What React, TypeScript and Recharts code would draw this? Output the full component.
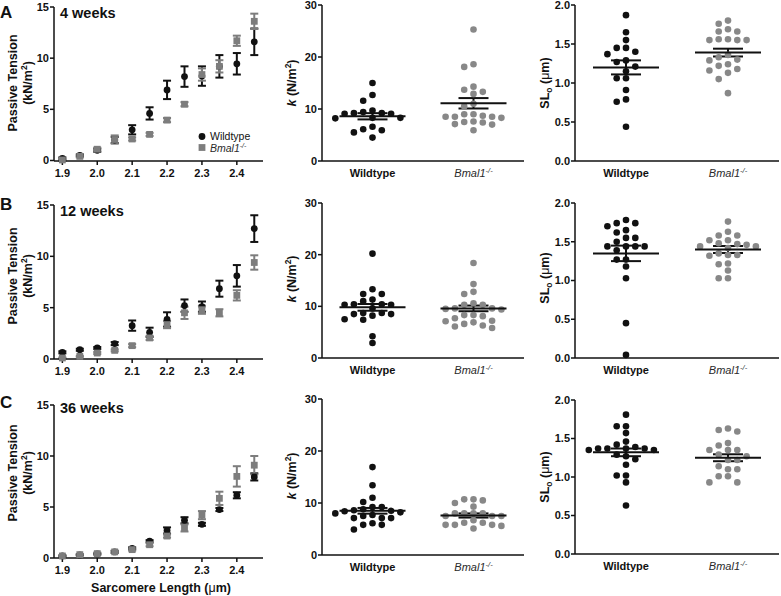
import { ScatterChart, Scatter, XAxis, YAxis, ErrorBar } from "recharts";

const FONT = "'Liberation Sans', Arial, Helvetica, sans-serif";
const BLACK = "#111111";
const GREY_SQ = "#7d7d7d";
const GREY_DOT = "#888888";

// passive tension vs sarcomere length (mean, sem)
const sarcomereLength = [1.9, 1.95, 2.0, 2.05, 2.1, 2.15, 2.2, 2.25, 2.3, 2.35, 2.4, 2.45];
const lengthTicks = [1.9, 2.0, 2.1, 2.2, 2.3, 2.4];

const wt4 = [0.2, 0.5, 1.0, 2.0, 3.0, 4.6, 6.9, 8.2, 8.25, 9.2, 9.45, 11.6];
const wt4Sem = [0.1, 0.1, 0.15, 0.3, 0.45, 0.6, 0.9, 1.0, 0.95, 1.1, 1.05, 1.3];
const ko4 = [0.05, 0.4, 1.1, 2.05, 2.1, 2.55, 3.95, 5.5, 8.4, 9.2, 11.7, 13.6];
const ko4Sem = [0.1, 0.1, 0.15, 0.4, 0.15, 0.15, 0.2, 0.2, 0.6, 0.6, 0.5, 0.75];

const wt12 = [0.65, 0.9, 1.07, 1.5, 3.25, 2.6, 3.85, 5.2, 5.1, 6.85, 8.1, 12.7];
const wt12Sem = [0.1, 0.1, 0.1, 0.15, 0.5, 0.45, 0.7, 0.6, 0.5, 0.78, 1.05, 1.3];
const ko12 = [0.1, 0.26, 0.58, 0.84, 1.3, 2.05, 3.35, 4.5, 4.8, 4.5, 6.2, 9.4];
const ko12Sem = [0.05, 0.05, 0.1, 0.1, 0.15, 0.2, 0.35, 0.6, 0.4, 0.35, 0.5, 0.7];

const wt36 = [0.2, 0.3, 0.4, 0.6, 0.95, 1.65, 2.7, 3.7, 3.3, 4.75, 6.15, 7.95];
const wt36Sem = [0.05, 0.05, 0.05, 0.1, 0.1, 0.1, 0.3, 0.3, 0.15, 0.15, 0.3, 0.35];
const ko36 = [0.2, 0.33, 0.43, 0.6, 0.82, 1.3, 2.15, 2.95, 4.2, 5.85, 8.0, 9.1];
const ko36Sem = [0.05, 0.05, 0.1, 0.1, 0.1, 0.15, 0.15, 0.35, 0.4, 0.65, 1.0, 0.9];

// stiffness k (N/m2), individual fibres
const kWt4 = [15.0, 12.7, 11.6, 9.7, 9.2, 9.1, 9.2, 9.1, 9.4, 8.3, 8.2, 8.3, 6.6, 5.9, 6.1, 5.5, 4.5];
const kKo4 = [25.3, 18.6, 18.1, 14.3, 13.7, 13.3, 12.9, 11.0, 10.5, 9.0, 9.0, 8.7, 8.5, 8.3, 8.5, 8.5, 7.6, 7.5, 7.4, 7.1, 7.0, 5.9];
const kWt12 = [20.2, 13.3, 12.4, 12.4, 11.3, 11.0, 10.4, 10.3, 10.4, 10.3, 9.6, 8.7, 8.5, 8.5, 8.7, 8.2, 7.5, 7.4, 4.2, 2.9];
const kKo12 = [18.4, 14.3, 12.8, 12.4, 10.3, 10.3, 10.6, 9.6, 9.6, 9.5, 9.4, 8.3, 8.1, 8.3, 7.2, 7.1, 7.7, 6.9, 6.3, 5.8, 6.1, 6.6];
const kWt36 = [16.9, 13.4, 11.0, 10.2, 9.2, 9.2, 8.8, 8.6, 8.5, 8.4, 8.2, 8.0, 7.7, 7.5, 7.1, 7.1, 7.1, 6.1, 5.8, 5.8, 4.9];
const kKo36 = [10.7, 10.5, 10.7, 10.0, 9.3, 8.0, 7.5, 8.0, 7.5, 8.0, 7.5, 8.0, 6.7, 6.2, 5.8, 5.8, 5.1, 5.6, 5.8, 6.2];

const kMean = { wt4: 8.6, ko4: 11.1, wt12: 9.8, ko12: 9.6, wt36: 8.5, ko36: 7.6 };
const kSem = { wt4: 0.6, ko4: 1.0, wt12: 0.65, ko12: 0.55, wt36: 0.55, ko36: 0.4 };

// slack sarcomere length SLo (um)
const slWt4 = [1.87, 1.65, 1.55, 1.45, 1.45, 1.4, 1.37, 1.29, 1.27, 1.21, 1.15, 1.06, 1.06, 0.91, 0.79, 0.76, 0.44];
const slKo4 = [1.8, 1.76, 1.69, 1.66, 1.66, 1.56, 1.55, 1.55, 1.55, 1.56, 1.36, 1.33, 1.3, 1.29, 1.24, 1.22, 1.18, 1.16, 1.13, 1.05, 0.87];
const slWt12 = [1.78, 1.74, 1.7, 1.74, 1.65, 1.62, 1.55, 1.55, 1.5, 1.44, 1.44, 1.44, 1.44, 1.39, 1.27, 1.27, 1.18, 1.03, 0.45, 0.04];
const slKo12 = [1.76, 1.63, 1.58, 1.58, 1.52, 1.52, 1.48, 1.47, 1.46, 1.44, 1.42, 1.44, 1.33, 1.32, 1.35, 1.33, 1.22, 1.21, 1.13, 1.03, 1.03];
const slWt36 = [1.81, 1.66, 1.66, 1.57, 1.46, 1.42, 1.37, 1.35, 1.39, 1.37, 1.37, 1.35, 1.37, 1.27, 1.29, 1.23, 1.16, 1.02, 1.02, 0.93, 0.63];
const slKo36 = [1.63, 1.59, 1.61, 1.41, 1.44, 1.35, 1.35, 1.35, 1.29, 1.27, 1.14, 1.22, 1.22, 1.1, 1.1, 1.01, 1.01, 0.93, 0.93];

const slMean = { wt4: 1.2, ko4: 1.39, wt12: 1.35, ko12: 1.4, wt36: 1.32, ko36: 1.25 };
const slSem = { wt4: 0.09, ko4: 0.05, wt12: 0.1, ko12: 0.045, wt36: 0.05, ko36: 0.045 };

const groups = ["Wildtype", "Bmal1"];
const weeks = ["4 weeks", "12 weeks", "36 weeks"];

// beeswarm placement like a column scatter: columns of fixed pixel spacing
function swarm(values: number[], center: number, pxPerX: number, pxPerY: number) {
  const step = 9.3 / pxPerX;
  const gap = 6.6;
  const placed: { col: number; py: number }[] = [];
  const order = values.map((v, i) => ({ v, i })).sort((a, b) => b.v - a.v);
  const out: { x: number; y: number }[] = new Array(values.length);
  for (const { v, i } of order) {
    const py = v * pxPerY;
    let col = 0;
    for (let k = 0; k < 60; k++) {
      const c = k === 0 ? 0 : k % 2 ? -Math.ceil(k / 2) : k / 2;
      if (!placed.some((p) => p.col === c && Math.abs(p.py - py) < gap)) {
        col = c;
        break;
      }
    }
    placed.push({ col, py });
    out[i] = { x: center + col * step, y: v };
  }
  return out;
}

const axisTick = { fill: BLACK, fontSize: 11, fontWeight: 700, fontFamily: FONT };

const circleShape = (color: string, r: number) => (p: any) =>
  <circle cx={p.cx} cy={p.cy} r={r} fill={color} />;
const squareShape = (color: string, s: number) => (p: any) =>
  <rect x={p.cx - s / 2} y={p.cy - s / 2} width={s} height={s} fill={color} />;
const meanShape = (p: any) =>
  <line x1={p.cx - 33} x2={p.cx + 33} y1={p.cy} y2={p.cy} stroke={BLACK} strokeWidth={2} />;

function TensionPanel(props: {
  top: number; bottom: number;
  wt: number[]; wtSem: number[]; ko: number[]; koSem: number[];
}) {
  const left = 54, right = 263;
  const yw = 40, mt = 10, xh = 26, mr = 4;
  const wtData = sarcomereLength.map((x, i) => ({ x, y: props.wt[i], e: props.wtSem[i] }));
  const koData = sarcomereLength.map((x, i) => ({ x, y: props.ko[i], e: props.koSem[i] }));
  return (
    <div style={{ position: "absolute", left: left - yw, top: props.top - mt }}>
      <ScatterChart
        width={right - left + yw + mr}
        height={props.bottom - props.top + mt + xh}
        margin={{ top: mt, right: mr, bottom: 0, left: 0 }}
      >
        <XAxis
          type="number" dataKey="x" domain={[1.876, 2.475]} ticks={lengthTicks} interval={0}
          allowDataOverflow height={xh} tickFormatter={(v: number) => v.toFixed(1)}
          stroke={BLACK} strokeWidth={1.5} tick={axisTick} tickSize={4} tickMargin={4}
        />
        <YAxis
          type="number" dataKey="y" domain={[0, 15]} ticks={[0, 5, 10, 15]} interval={0}
          width={yw} stroke={BLACK} strokeWidth={1.5} tick={axisTick} tickSize={4} tickMargin={1}
        />
        <Scatter data={wtData} shape={circleShape(BLACK, 3.4)} isAnimationActive={false}>
          <ErrorBar dataKey="e" direction="y" width={4} stroke={BLACK} strokeWidth={2} />
        </Scatter>
        <Scatter data={koData} shape={squareShape(GREY_SQ, 6.8)} isAnimationActive={false}>
          <ErrorBar dataKey="e" direction="y" width={4} stroke={GREY_SQ} strokeWidth={2} />
        </Scatter>
      </ScatterChart>
    </div>
  );
}

const CategoryTick = (p: any) => {
  const isWt = p.payload.value === 1;
  return (
    <text x={p.x} y={p.y} dy="0.71em" textAnchor="middle" fontFamily={FONT} fontSize={11}
      fill={isWt ? BLACK : "#2a2a2a"} fontWeight={isWt ? 700 : 400} fontStyle={isWt ? "normal" : "italic"}>
      {isWt ? groups[0] : groups[1]}
      {!isWt && <tspan dy={-4} fontSize={7.5}>-/-</tspan>}
    </text>
  );
};

function ColumnPanel(props: {
  left: number; right: number; top: number; bottom: number;
  yMax: number; yTicks: number[]; decimals: number;
  wt: number[]; ko: number[]; wtMean: number; wtSem: number; koMean: number; koSem: number;
}) {
  const yw = 34, mt = 10, xh = 26, mr = 2;
  const pxPerX = (props.right - props.left) / 2;
  const pxPerY = (props.bottom - props.top) / props.yMax;
  const wtPts = swarm(props.wt, 1, pxPerX, pxPerY);
  const koPts = swarm(props.ko, 2, pxPerX, pxPerY);
  const wtMeanData = [{ x: 1, y: props.wtMean, e: props.wtSem }];
  const koMeanData = [{ x: 2, y: props.koMean, e: props.koSem }];
  return (
    <div style={{ position: "absolute", left: props.left - yw, top: props.top - mt }}>
      <ScatterChart
        width={props.right - props.left + yw + mr}
        height={props.bottom - props.top + mt + xh}
        margin={{ top: mt, right: mr, bottom: 0, left: 0 }}
      >
        <XAxis
          type="number" dataKey="x" domain={[0.5, 2.5]} ticks={[1, 2]} interval={0}
          allowDataOverflow height={xh} stroke={BLACK} strokeWidth={1.5}
          tickLine={false} tickSize={0} tickMargin={8} tick={<CategoryTick />}
        />
        <YAxis
          type="number" dataKey="y" domain={[0, props.yMax]} ticks={props.yTicks} interval={0}
          width={yw} stroke={BLACK} strokeWidth={1.5} tick={axisTick} tickSize={4} tickMargin={1}
          tickFormatter={(v: number) => v.toFixed(props.decimals)}
        />
        <Scatter data={wtPts} shape={circleShape(BLACK, 3.3)} isAnimationActive={false} />
        <Scatter data={koPts} shape={circleShape(GREY_DOT, 3.3)} isAnimationActive={false} />
        <Scatter data={wtMeanData} shape={meanShape} isAnimationActive={false}>
          <ErrorBar dataKey="e" direction="y" width={15} stroke={BLACK} strokeWidth={2} />
        </Scatter>
        <Scatter data={koMeanData} shape={meanShape} isAnimationActive={false}>
          <ErrorBar dataKey="e" direction="y" width={15} stroke={BLACK} strokeWidth={2} />
        </Scatter>
      </ScatterChart>
    </div>
  );
}

const tensionRows = [
  { top: 7, bottom: 161 },
  { top: 205, bottom: 359 },
  { top: 405, bottom: 558 },
];
const kRows = [
  { top: 5, bottom: 161 },
  { top: 203, bottom: 358 },
  { top: 399, bottom: 555 },
];
const slRows = [
  { top: 5, bottom: 161 },
  { top: 203, bottom: 358 },
  { top: 400, bottom: 554 },
];

export default function App() {
  const tension = [
    [wt4, wt4Sem, ko4, ko4Sem],
    [wt12, wt12Sem, ko12, ko12Sem],
    [wt36, wt36Sem, ko36, ko36Sem],
  ];
  const kSets = [
    [kWt4, kKo4, kMean.wt4, kSem.wt4, kMean.ko4, kSem.ko4],
    [kWt12, kKo12, kMean.wt12, kSem.wt12, kMean.ko12, kSem.ko12],
    [kWt36, kKo36, kMean.wt36, kSem.wt36, kMean.ko36, kSem.ko36],
  ] as const;
  const slSets = [
    [slWt4, slKo4, slMean.wt4, slSem.wt4, slMean.ko4, slSem.ko4],
    [slWt12, slKo12, slMean.wt12, slSem.wt12, slMean.ko12, slSem.ko12],
    [slWt36, slKo36, slMean.wt36, slSem.wt36, slMean.ko36, slSem.ko36],
  ] as const;

  const letterBase = [18, 210, 408];
  const weekBase = [18, 216, 413];
  const tensionMid = [83, 276, 473];
  const kMid = [83, 279, 476];
  const slMid = [83, 278, 477];
  const bold = { fontFamily: FONT, fontWeight: 700, fill: BLACK } as const;

  return (
    <div style={{ position: "absolute", left: 0, top: 0, width: 781, height: 596, background: "#fff", fontFamily: FONT }}>
      {tensionRows.map((r, i) => (
        <TensionPanel key={"t" + i} top={r.top} bottom={r.bottom}
          wt={tension[i][0]} wtSem={tension[i][1]} ko={tension[i][2]} koSem={tension[i][3]} />
      ))}
      {kRows.map((r, i) => (
        <ColumnPanel key={"k" + i} left={322} right={524} top={r.top} bottom={r.bottom}
          yMax={30} yTicks={[0, 10, 20, 30]} decimals={0}
          wt={kSets[i][0] as number[]} ko={kSets[i][1] as number[]}
          wtMean={kSets[i][2]} wtSem={kSets[i][3]} koMean={kSets[i][4]} koSem={kSets[i][5]} />
      ))}
      {slRows.map((r, i) => (
        <ColumnPanel key={"s" + i} left={575} right={779} top={r.top} bottom={r.bottom}
          yMax={2} yTicks={[0, 0.5, 1, 1.5, 2]} decimals={1}
          wt={slSets[i][0] as number[]} ko={slSets[i][1] as number[]}
          wtMean={slSets[i][2]} wtSem={slSets[i][3]} koMean={slSets[i][4]} koSem={slSets[i][5]} />
      ))}
      <svg width={781} height={596} style={{ position: "absolute", left: 0, top: 0, pointerEvents: "none" }}>
        {["A", "B", "C"].map((l, i) => (
          <text key={l} x={0} y={letterBase[i]} fontSize={17} {...bold}>{l}</text>
        ))}
        {weeks.map((w, i) => (
          <text key={w} x={60} y={weekBase[i]} fontSize={14.5} {...bold}>{w}</text>
        ))}
        {tensionMid.map((y, i) => (
          <g key={"tl" + i}>
            <text transform={`translate(17,${y}) rotate(-90)`} textAnchor="middle" fontSize={12.5} {...bold}>
              Passive Tension
            </text>
            <text transform={`translate(32,${y}) rotate(-90)`} textAnchor="middle" fontSize={12.5} {...bold}>
              (kN/m<tspan dy={-5} fontSize={8.5}>2</tspan><tspan dy={5}>)</tspan>
            </text>
          </g>
        ))}
        {kMid.map((y, i) => (
          <text key={"kl" + i} transform={`translate(296,${y}) rotate(-90)`} textAnchor="middle" fontSize={12.5} {...bold}>
            <tspan fontStyle="italic">k</tspan> (N/m<tspan dy={-5} fontSize={8.5}>2</tspan><tspan dy={5}>)</tspan>
          </text>
        ))}
        {slMid.map((y, i) => (
          <text key={"sl" + i} transform={`translate(549,${y}) rotate(-90)`} textAnchor="middle" fontSize={12.5} {...bold}>
            SL<tspan dy={3} fontSize={8.5}>o</tspan><tspan dy={-3}> (</tspan>
            <tspan fontWeight={400}>μ</tspan>m)
          </text>
        ))}
        <text x={161} y={592} textAnchor="middle" fontSize={12.5} {...bold}>
          Sarcomere Length (<tspan fontWeight={400}>μ</tspan>m)
        </text>
        <circle cx={202} cy={136.5} r={3.4} fill={BLACK} />
        <text x={210} y={140} fontSize={10.5} fontFamily={FONT} fill={BLACK}>Wildtype</text>
        <rect x={198.6} y={144.1} width={6.8} height={6.8} fill={GREY_SQ} />
        <text x={210} y={151.5} fontSize={10.5} fontFamily={FONT} fontStyle="italic" fill="#2a2a2a">
          {groups[1]}<tspan dy={-4} fontSize={7}>-/-</tspan>
        </text>
      </svg>
    </div>
  );
}
